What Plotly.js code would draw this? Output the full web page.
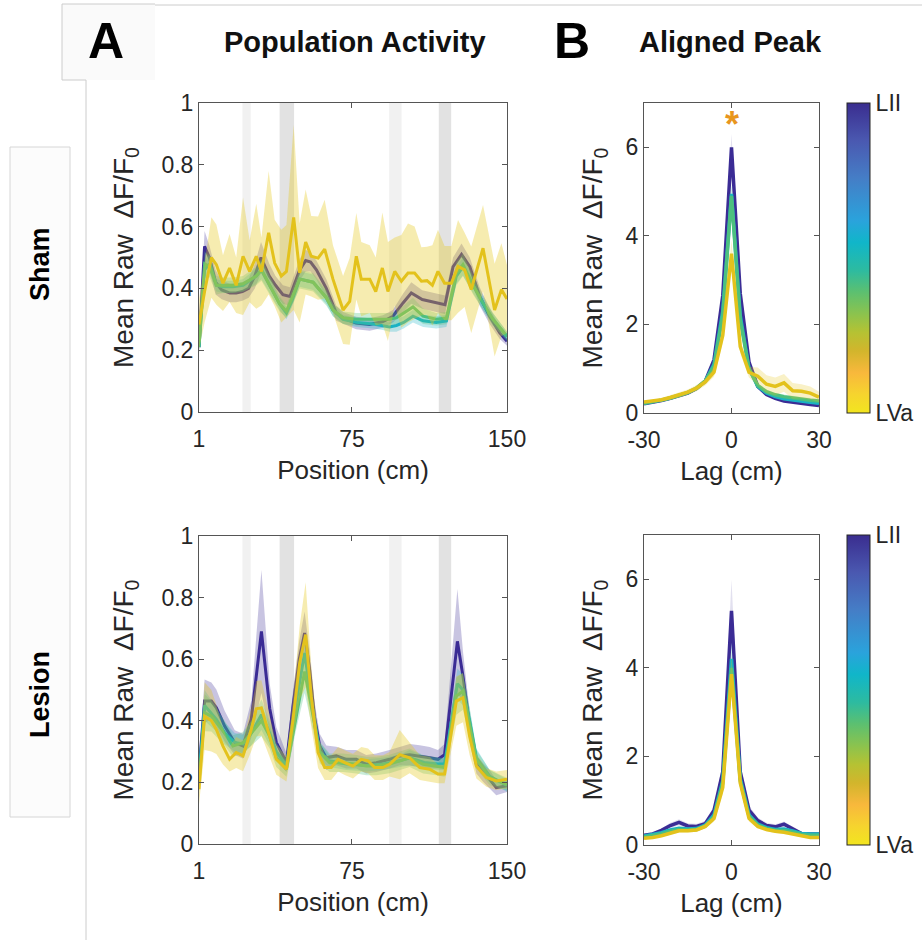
<!DOCTYPE html>
<html>
<head>
<meta charset="utf-8">
<script src="https://cdn.plot.ly/plotly-3.0.1.min.js"></script>
<style>html,body{margin:0;padding:0;background:#fff;}#chart{width:922px;height:940px;}</style>
</head>
<body>
<div id="chart"></div>
<script>
// ---------------- DATA ----------------
const layerNames = ['LII', 'LIII', 'LIV', 'LVa'];
const zoneStart = [22, 40, 93, 117];
const zoneEnd = [26, 47, 99, 123];
const zoneShade = ['light', 'dark', 'light', 'dark'];
const posTicks = [1, 75, 150];
const lagTicks = [-30, 0, 30];
const lagTickText = ['-30', '0', '30'];

// Sham – population activity
const shamLII_x = [1, 3.7, 6, 9, 12, 16, 19, 22, 25, 28, 31, 35, 38, 41.6, 45, 49.7, 52.6, 55, 57.8, 62.6, 67.4, 70.7, 77, 83.6, 90, 94.8, 99.7, 103.7, 109, 115.8, 120, 123.9, 128, 132, 136.8, 141.6, 146.5, 150];
const shamLII_y = [0.21, 0.536, 0.50, 0.42, 0.395, 0.385, 0.385, 0.39, 0.40, 0.44, 0.50, 0.44, 0.41, 0.38, 0.374, 0.46, 0.49, 0.485, 0.46, 0.40, 0.32, 0.304, 0.288, 0.283, 0.293, 0.31, 0.353, 0.385, 0.364, 0.353, 0.347, 0.47, 0.51, 0.47, 0.374, 0.31, 0.256, 0.229];
const shamLII_e = [0.02, 0.05, 0.04, 0.04, 0.03, 0.03, 0.03, 0.03, 0.03, 0.04, 0.05, 0.04, 0.03, 0.03, 0.03, 0.035, 0.035, 0.03, 0.03, 0.03, 0.025, 0.02, 0.02, 0.02, 0.02, 0.02, 0.03, 0.035, 0.03, 0.03, 0.03, 0.03, 0.035, 0.03, 0.03, 0.025, 0.02, 0.015];

const shamLIII_x = [1, 3.7, 6.2, 9.4, 12.6, 17.4, 22.3, 28.7, 31.2, 35.2, 40, 43.3, 46, 49.7, 56.2, 62.6, 65.8, 70.7, 77.1, 85.2, 90, 93.2, 96.5, 100, 104.5, 109.4, 115.8, 120.7, 125.5, 128.7, 133.6, 138.4, 143.2, 150];
const shamLIII_y = [0.21, 0.46, 0.48, 0.41, 0.405, 0.405, 0.41, 0.44, 0.46, 0.41, 0.35, 0.32, 0.36, 0.43, 0.42, 0.37, 0.33, 0.30, 0.29, 0.285, 0.28, 0.275, 0.28, 0.29, 0.31, 0.295, 0.29, 0.295, 0.44, 0.47, 0.41, 0.35, 0.30, 0.245];
const shamLIII_e = [0.01, 0.03, 0.03, 0.02, 0.02, 0.02, 0.02, 0.025, 0.03, 0.025, 0.02, 0.02, 0.02, 0.025, 0.025, 0.02, 0.02, 0.015, 0.015, 0.015, 0.015, 0.015, 0.02, 0.02, 0.02, 0.02, 0.02, 0.02, 0.03, 0.03, 0.025, 0.02, 0.02, 0.015];

const shamLIV_x = [1, 3.7, 6.2, 9.4, 12.6, 17.4, 22.3, 28.7, 31.2, 35.2, 40, 43.3, 46, 49.7, 56.2, 62.6, 65.8, 70.7, 77.1, 85.2, 90, 93.2, 96.5, 100, 104.5, 109.4, 115.8, 120.7, 125.5, 128.7, 133.6, 138.4, 143.2, 150];
const shamLIV_y = [0.21, 0.48, 0.47, 0.41, 0.41, 0.41, 0.415, 0.44, 0.46, 0.41, 0.35, 0.326, 0.37, 0.43, 0.42, 0.37, 0.33, 0.305, 0.30, 0.30, 0.30, 0.30, 0.305, 0.32, 0.34, 0.31, 0.30, 0.304, 0.45, 0.477, 0.41, 0.353, 0.30, 0.245];
const shamLIV_e = [0.02, 0.04, 0.035, 0.03, 0.025, 0.025, 0.025, 0.03, 0.035, 0.03, 0.025, 0.02, 0.025, 0.03, 0.03, 0.025, 0.02, 0.02, 0.02, 0.02, 0.02, 0.02, 0.02, 0.025, 0.03, 0.025, 0.02, 0.02, 0.035, 0.035, 0.03, 0.025, 0.02, 0.015];

const shamLVa_x = [1, 3.7, 7, 9.4, 12.6, 15.8, 19, 22.3, 25.5, 28.7, 31.2, 34.7, 37.6, 40.8, 43.3, 46.8, 49.7, 52.6, 55.3, 58.6, 61.8, 65.8, 70.7, 73.9, 77.1, 79.5, 83.6, 86.5, 89.7, 92.4, 95.7, 98.9, 102.1, 105.3, 108.6, 111.3, 113.9, 116.6, 119.8, 123.1, 126.3, 129.5, 132.7, 138.4, 144, 147.3, 150];
const shamLVa_y = [0.283, 0.39, 0.50, 0.477, 0.417, 0.466, 0.41, 0.504, 0.455, 0.504, 0.455, 0.58, 0.482, 0.44, 0.455, 0.63, 0.45, 0.55, 0.504, 0.498, 0.527, 0.43, 0.33, 0.358, 0.504, 0.43, 0.43, 0.39, 0.466, 0.39, 0.455, 0.423, 0.45, 0.45, 0.423, 0.425, 0.41, 0.455, 0.417, 0.417, 0.471, 0.46, 0.396, 0.53, 0.33, 0.396, 0.366];
const shamLVa_e = [0.08, 0.1, 0.13, 0.13, 0.09, 0.11, 0.09, 0.19, 0.10, 0.17, 0.11, 0.20, 0.14, 0.15, 0.15, 0.30, 0.16, 0.17, 0.13, 0.135, 0.16, 0.11, 0.11, 0.14, 0.14, 0.12, 0.11, 0.11, 0.18, 0.16, 0.11, 0.15, 0.16, 0.15, 0.11, 0.11, 0.13, 0.135, 0.12, 0.12, 0.15, 0.12, 0.14, 0.14, 0.15, 0.15, 0.11];

// Lesion – population activity
const lesLII_x = [1, 3.7, 7, 9.4, 13.4, 18.3, 22.3, 26.3, 31.2, 35.2, 38.4, 43.3, 46.5, 49.5, 52.1, 54.5, 56.8, 59.4, 62.6, 67.4, 72.3, 77.1, 81.9, 86.8, 93.2, 98.1, 102.9, 107.8, 112.6, 116.6, 119.8, 126, 128.7, 131.9, 135.2, 138.4, 141.6, 144.8, 150];
const lesLII_y = [0.237, 0.464, 0.464, 0.442, 0.383, 0.329, 0.318, 0.405, 0.69, 0.44, 0.33, 0.264, 0.448, 0.60, 0.685, 0.566, 0.415, 0.318, 0.28, 0.286, 0.275, 0.275, 0.259, 0.264, 0.275, 0.286, 0.29, 0.286, 0.28, 0.275, 0.29, 0.658, 0.545, 0.383, 0.259, 0.232, 0.21, 0.183, 0.189];
const lesLII_e = [0.03, 0.07, 0.06, 0.06, 0.05, 0.04, 0.04, 0.06, 0.20, 0.08, 0.05, 0.03, 0.05, 0.06, 0.07, 0.06, 0.05, 0.04, 0.04, 0.03, 0.03, 0.03, 0.03, 0.03, 0.03, 0.03, 0.035, 0.035, 0.035, 0.03, 0.035, 0.17, 0.08, 0.05, 0.03, 0.03, 0.03, 0.025, 0.02];

const lesLIII_x = [1, 3.7, 9.4, 13.4, 18.3, 22.3, 26.3, 31.2, 35.2, 38.4, 43.3, 46.5, 52.1, 56.8, 59.4, 64, 72.3, 81.9, 90, 98.1, 102.9, 110, 116.6, 119.8, 126, 128.7, 131.9, 135.2, 141.6, 150];
const lesLIII_y = [0.22, 0.45, 0.405, 0.36, 0.33, 0.325, 0.36, 0.42, 0.36, 0.30, 0.255, 0.40, 0.62, 0.40, 0.30, 0.27, 0.26, 0.255, 0.26, 0.27, 0.28, 0.265, 0.26, 0.26, 0.52, 0.50, 0.40, 0.28, 0.22, 0.19];
const lesLIII_e = [0.02, 0.05, 0.04, 0.035, 0.03, 0.03, 0.04, 0.05, 0.04, 0.03, 0.02, 0.04, 0.06, 0.04, 0.03, 0.02, 0.02, 0.02, 0.02, 0.02, 0.025, 0.02, 0.02, 0.02, 0.05, 0.05, 0.04, 0.03, 0.02, 0.02];

const lesLIV_x = [1, 3.7, 7, 13.4, 17.4, 22.3, 26.3, 31.2, 35.2, 38.4, 43.3, 47.8, 52.1, 56.2, 59.4, 64.2, 70.7, 77.1, 81.9, 86.8, 93.2, 98.1, 102.9, 109.4, 115.8, 119.8, 125.5, 128.7, 131.9, 135.2, 141.6, 150];
const lesLIV_y = [0.20, 0.426, 0.415, 0.36, 0.318, 0.329, 0.36, 0.40, 0.35, 0.28, 0.243, 0.405, 0.56, 0.415, 0.297, 0.264, 0.264, 0.259, 0.253, 0.253, 0.26, 0.27, 0.28, 0.259, 0.253, 0.248, 0.48, 0.496, 0.394, 0.275, 0.216, 0.194];
const lesLIV_e = [0.03, 0.06, 0.05, 0.04, 0.035, 0.035, 0.04, 0.05, 0.04, 0.03, 0.025, 0.04, 0.07, 0.05, 0.035, 0.03, 0.03, 0.03, 0.03, 0.03, 0.03, 0.03, 0.03, 0.03, 0.03, 0.03, 0.06, 0.06, 0.05, 0.03, 0.025, 0.02];

const lesLVa_x = [1, 3.7, 7, 9.4, 12.6, 15.8, 19, 22.3, 26.3, 28.7, 31.2, 35.2, 38.4, 43.3, 46.5, 49.7, 52.6, 55.3, 58.6, 61.8, 65, 68.3, 71.5, 75.5, 79.5, 82.8, 86, 90, 93.2, 98.1, 102.9, 107.8, 112.6, 116.6, 119.8, 125.5, 128.7, 131.9, 135.2, 140, 144.8, 150];
const lesLVa_y = [0.178, 0.415, 0.40, 0.372, 0.318, 0.275, 0.297, 0.286, 0.372, 0.439, 0.442, 0.35, 0.275, 0.243, 0.405, 0.588, 0.68, 0.48, 0.297, 0.248, 0.248, 0.275, 0.264, 0.253, 0.275, 0.27, 0.248, 0.248, 0.259, 0.29, 0.28, 0.248, 0.243, 0.227, 0.227, 0.464, 0.475, 0.35, 0.253, 0.216, 0.205, 0.21];
const lesLVa_e = [0.05, 0.11, 0.10, 0.08, 0.06, 0.04, 0.05, 0.05, 0.07, 0.09, 0.09, 0.07, 0.05, 0.04, 0.07, 0.12, 0.17, 0.10, 0.05, 0.04, 0.04, 0.04, 0.04, 0.04, 0.04, 0.04, 0.04, 0.04, 0.04, 0.08, 0.05, 0.04, 0.04, 0.03, 0.03, 0.08, 0.08, 0.06, 0.04, 0.03, 0.03, 0.03];

// Aligned peak
const lag = [-30, -27, -24, -21, -18, -15, -12, -9, -6, -3, 0, 3, 6, 9, 12, 15, 18, 21, 24, 27, 30];
const shamPeakLII = [0.21, 0.24, 0.28, 0.33, 0.38, 0.45, 0.55, 0.72, 1.2, 2.65, 6.0, 2.7, 1.15, 0.6, 0.42, 0.33, 0.27, 0.24, 0.21, 0.19, 0.17];
const shamPeakLIII = [0.22, 0.25, 0.29, 0.34, 0.39, 0.46, 0.56, 0.72, 1.1, 2.3, 4.95, 2.2, 1.0, 0.6, 0.45, 0.37, 0.32, 0.29, 0.26, 0.24, 0.22];
const shamPeakLIV = [0.22, 0.25, 0.29, 0.34, 0.39, 0.46, 0.56, 0.72, 1.05, 2.2, 4.9, 2.1, 1.0, 0.62, 0.48, 0.41, 0.37, 0.34, 0.31, 0.29, 0.27];
const shamPeakLVa = [0.25, 0.27, 0.3, 0.35, 0.4, 0.47, 0.56, 0.7, 0.92, 1.75, 3.6, 1.5, 0.92, 0.83, 0.65, 0.6, 0.68, 0.5, 0.49, 0.45, 0.36];
const shamPeakLII_e = [0.02, 0.02, 0.02, 0.02, 0.03, 0.03, 0.03, 0.04, 0.06, 0.12, 0.3, 0.12, 0.06, 0.04, 0.03, 0.03, 0.02, 0.02, 0.02, 0.02, 0.02];
const shamPeakLIII_e = [0.02, 0.02, 0.02, 0.02, 0.03, 0.03, 0.03, 0.04, 0.06, 0.1, 0.25, 0.1, 0.06, 0.04, 0.03, 0.03, 0.03, 0.03, 0.03, 0.03, 0.03];
const shamPeakLIV_e = [0.02, 0.02, 0.02, 0.03, 0.03, 0.03, 0.04, 0.05, 0.07, 0.12, 0.25, 0.12, 0.07, 0.05, 0.05, 0.05, 0.05, 0.05, 0.05, 0.05, 0.05];
const shamPeakLVa_e = [0.03, 0.03, 0.04, 0.05, 0.06, 0.06, 0.07, 0.08, 0.1, 0.15, 0.3, 0.15, 0.12, 0.2, 0.2, 0.2, 0.2, 0.18, 0.16, 0.15, 0.12];

const lesPeakLII = [0.22, 0.25, 0.33, 0.44, 0.51, 0.43, 0.42, 0.48, 0.78, 1.65, 5.29, 1.65, 0.79, 0.55, 0.44, 0.41, 0.47, 0.37, 0.26, 0.25, 0.25];
const lesPeakLIII = [0.2, 0.23, 0.28, 0.34, 0.38, 0.36, 0.37, 0.45, 0.68, 1.45, 4.2, 1.5, 0.68, 0.47, 0.39, 0.35, 0.36, 0.32, 0.26, 0.25, 0.25];
const lesPeakLIV = [0.18, 0.21, 0.25, 0.31, 0.35, 0.34, 0.35, 0.43, 0.64, 1.4, 4.0, 1.45, 0.65, 0.45, 0.37, 0.33, 0.33, 0.29, 0.24, 0.22, 0.22];
const lesPeakLVa = [0.15, 0.17, 0.21, 0.27, 0.32, 0.32, 0.34, 0.42, 0.6, 1.3, 3.86, 1.4, 0.6, 0.42, 0.35, 0.31, 0.29, 0.25, 0.2, 0.17, 0.17];
const lesPeakLII_e = [0.03, 0.03, 0.04, 0.06, 0.07, 0.06, 0.06, 0.07, 0.1, 0.2, 0.7, 0.2, 0.1, 0.07, 0.06, 0.06, 0.06, 0.05, 0.04, 0.04, 0.04];
const lesPeakLIII_e = [0.02, 0.02, 0.03, 0.04, 0.04, 0.04, 0.04, 0.05, 0.07, 0.15, 0.4, 0.15, 0.07, 0.05, 0.04, 0.04, 0.04, 0.03, 0.03, 0.03, 0.03];
const lesPeakLIV_e = [0.02, 0.02, 0.03, 0.04, 0.04, 0.04, 0.04, 0.05, 0.07, 0.15, 0.4, 0.15, 0.07, 0.05, 0.04, 0.04, 0.04, 0.03, 0.03, 0.03, 0.03];
const lesPeakLVa_e = [0.02, 0.02, 0.03, 0.04, 0.04, 0.04, 0.04, 0.05, 0.07, 0.15, 0.4, 0.15, 0.07, 0.05, 0.04, 0.04, 0.04, 0.03, 0.03, 0.03, 0.03];

// ---------------- STYLE ----------------
const W = 922, H = 940;
const FONT = 'Liberation Sans, Arial, Helvetica, sans-serif';
const TXT = '#262626';
const lineColors = {LII: '#3b2c95', LIII: '#19b2c4', LIV: '#4dc07e', LVa: '#e3c21c'};
const fillColors = {LII: 'rgba(59,44,149,0.28)', LIII: 'rgba(25,178,196,0.28)', LIV: 'rgba(77,192,126,0.30)', LVa: 'rgba(230,200,30,0.35)'};
const peakFill = {LII: 'rgba(59,44,149,0.15)', LIII: 'rgba(25,178,196,0.15)', LIV: 'rgba(77,192,126,0.15)', LVa: 'rgba(230,200,30,0.25)'};
const cbScale = [
  [0.00, '#f2e51f'], [0.06, '#f6d42e'], [0.13, '#f8b83c'], [0.20, '#d2b52c'],
  [0.26, '#b5c233'], [0.32, '#8bc34e'], [0.39, '#5cc070'], [0.46, '#2dbba0'],
  [0.55, '#10b6c9'], [0.62, '#2aa3dc'], [0.76, '#457dc6'], [0.88, '#4a58b0'], [1.00, '#3a2d8f']
];

const px = v => v / W;
const py = v => 1 - v / H;

const traces = [];
function addSeries(xs, ys, es, name, xa, ya, fills, width) {
  const upper = ys.map((v, i) => v + es[i]);
  const lower = ys.map((v, i) => v - es[i]);
  traces.push({
    x: xs.concat(xs.slice().reverse()),
    y: upper.concat(lower.slice().reverse()),
    xaxis: xa, yaxis: ya, type: 'scatter', mode: 'lines', fill: 'toself',
    fillcolor: fills[name], line: {width: 0, color: 'rgba(0,0,0,0)'},
    hoverinfo: 'skip', showlegend: false
  });
  traces.push({
    x: xs, y: ys, xaxis: xa, yaxis: ya, type: 'scatter', mode: 'lines',
    line: {color: lineColors[name], width: width}, name: name, showlegend: false
  });
}

addSeries(shamLII_x, shamLII_y, shamLII_e, 'LII', 'x', 'y', fillColors, 3);
addSeries(shamLIII_x, shamLIII_y, shamLIII_e, 'LIII', 'x', 'y', fillColors, 3);
addSeries(shamLIV_x, shamLIV_y, shamLIV_e, 'LIV', 'x', 'y', fillColors, 3);
addSeries(shamLVa_x, shamLVa_y, shamLVa_e, 'LVa', 'x', 'y', fillColors, 3);

addSeries(lesLII_x, lesLII_y, lesLII_e, 'LII', 'x2', 'y2', fillColors, 3);
addSeries(lesLIII_x, lesLIII_y, lesLIII_e, 'LIII', 'x2', 'y2', fillColors, 3);
addSeries(lesLIV_x, lesLIV_y, lesLIV_e, 'LIV', 'x2', 'y2', fillColors, 3);
addSeries(lesLVa_x, lesLVa_y, lesLVa_e, 'LVa', 'x2', 'y2', fillColors, 3);

addSeries(lag, shamPeakLII, shamPeakLII_e, 'LII', 'x3', 'y3', peakFill, 3.5);
addSeries(lag, shamPeakLIII, shamPeakLIII_e, 'LIII', 'x3', 'y3', peakFill, 3.5);
addSeries(lag, shamPeakLIV, shamPeakLIV_e, 'LIV', 'x3', 'y3', peakFill, 3.5);
addSeries(lag, shamPeakLVa, shamPeakLVa_e, 'LVa', 'x3', 'y3', peakFill, 3.5);

addSeries(lag, lesPeakLII, lesPeakLII_e, 'LII', 'x4', 'y4', peakFill, 3.5);
addSeries(lag, lesPeakLIII, lesPeakLIII_e, 'LIII', 'x4', 'y4', peakFill, 3.5);
addSeries(lag, lesPeakLIV, lesPeakLIV_e, 'LIV', 'x4', 'y4', peakFill, 3.5);
addSeries(lag, lesPeakLVa, lesPeakLVa_e, 'LVa', 'x4', 'y4', peakFill, 3.5);

// colorbars
function cbTrace(xa, ya, topPx) {
  return {
    x: [0, 0], y: [0, 0], xaxis: xa, yaxis: ya, type: 'scatter', mode: 'markers',
    hoverinfo: 'skip', showlegend: false,
    marker: {
      color: [0, 1], cmin: 0, cmax: 1, colorscale: cbScale, opacity: 0, size: 1,
      showscale: true,
      colorbar: {
        x: px(847), xanchor: 'left', y: py(topPx), yanchor: 'top',
        thickness: 23, thicknessmode: 'pixels', len: 310, lenmode: 'pixels',
        xpad: 0, ypad: 0, outlinewidth: 1, outlinecolor: TXT,
        tickvals: [0, 1], ticktext: [layerNames[3], layerNames[0]], ticks: '',
        tickfont: {family: FONT, size: 23, color: TXT}
      }
    }
  };
}
traces.push(cbTrace('x3', 'y3', 103));
traces.push(cbTrace('x4', 'y4', 535));

// axes
const tickFont = {family: FONT, size: 23, color: TXT};
const titleFont = {family: FONT, size: 26, color: TXT};
const yTitleFont = {family: FONT, size: 28, color: TXT};
function xAx(dom, range, tv, tt, title, anchor) {
  const a = {domain: dom, range: range, tickvals: tv, showgrid: false, zeroline: false,
    showline: true, linecolor: '#555', linewidth: 1, mirror: 'ticks', ticks: 'inside',
    ticklen: 5, tickcolor: '#555', tickfont: tickFont, fixedrange: true, anchor: anchor,
    ticklabelstandoff: 6,
    title: {text: title, font: titleFont, standoff: 10}};
  if (tt) a.ticktext = tt;
  return a;
}
function yAx(dom, range, tv, anchor, standoff) {
  return {domain: dom, range: range, tickvals: tv, showgrid: false, zeroline: false,
    showline: true, linecolor: '#555', linewidth: 1, mirror: 'ticks', ticks: 'inside',
    ticklen: 5, tickcolor: '#555', tickfont: tickFont, anchor: anchor, fixedrange: true,
    title: {text: 'Mean Raw  ΔF/F<sub>0</sub>', font: yTitleFont, standoff: standoff}};
}
const xL = [px(199), px(507)], xR = [px(644), px(819)];
const yTop = [py(412), py(103)], yBot = [py(844), py(536)];
const yTopR = [py(413), py(103)], yBotR = [py(845), py(535)];

// zone shapes
const shapes = [];
['x', 'x2'].forEach((xr, k) => {
  const yr = k === 0 ? 'y domain' : 'y2 domain';
  zoneStart.forEach((s, i) => {
    shapes.push({type: 'rect', xref: xr, yref: yr, x0: s, x1: zoneEnd[i], y0: 0, y1: 1,
      fillcolor: zoneShade[i] === 'light' ? '#f1f1f1' : '#e2e2e2', line: {width: 0}, layer: 'below'});
  });
});
// panel frame lines
const frameLine = (x0, y0, x1, y1) => ({type: 'line', xref: 'paper', yref: 'paper',
  x0: px(x0), y0: py(y0), x1: px(x1), y1: py(y1), line: {color: '#cccccc', width: 1}});
shapes.push({type: 'rect', xref: 'paper', yref: 'paper', x0: px(62), x1: px(155), y0: py(80), y1: py(4),
  fillcolor: '#fafafa', line: {width: 0}, layer: 'below'});
shapes.push(frameLine(62, 4, 155, 4));
shapes.push(frameLine(155, 5, 922, 5));
shapes.push(frameLine(62, 4, 62, 80));
shapes.push(frameLine(62, 80, 86, 80));
shapes.push(frameLine(86, 80, 86, 940));
shapes.push({type: 'rect', xref: 'paper', yref: 'paper', x0: px(10), x1: px(70), y0: py(817), y1: py(147),
  fillcolor: '#fcfcfc', line: {color: '#d6d6d6', width: 1}, layer: 'below'});

const ann = (x, y, text, size, extra) => Object.assign({xref: 'paper', yref: 'paper', x: px(x), y: py(y),
  text: text, showarrow: false, xanchor: 'center', yanchor: 'middle',
  font: {family: FONT, size: size, color: '#000'}}, extra || {});
const annotations = [
  ann(106, 41, '<b>A</b>', 50),
  ann(355, 42, '<b>Population Activity</b>', 29, {font: {family: FONT, size: 29, color: '#111'}}),
  ann(572, 41, '<b>B</b>', 50),
  ann(730, 42, '<b>Aligned Peak</b>', 29, {font: {family: FONT, size: 29, color: '#111'}}),
  ann(40, 264, '<b>Sham</b>', 27, {textangle: -90}),
  ann(40, 695, '<b>Lesion</b>', 27, {textangle: -90}),
  {xref: 'x3', yref: 'y3', x: 0, y: 6.64, text: '<b>*</b>', showarrow: false, yshift: -6,
   font: {family: FONT, size: 36, color: '#e8961e'}}
];

const layout = {
  width: W, height: H, margin: {l: 0, r: 0, t: 0, b: 0},
  paper_bgcolor: '#fff', plot_bgcolor: '#fff', showlegend: false,
  font: {family: FONT, color: TXT},
  xaxis: xAx(xL, [1, 150], posTicks, null, 'Position (cm)', 'y'),
  yaxis: yAx(yTop, [0, 1], [0, 0.2, 0.4, 0.6, 0.8, 1], 'x', 19),
  xaxis2: xAx(xL, [1, 150], posTicks, null, 'Position (cm)', 'y2'),
  yaxis2: yAx(yBot, [0, 1], [0, 0.2, 0.4, 0.6, 0.8, 1], 'x2', 19),
  xaxis3: xAx(xR, [-30, 30], lagTicks, lagTickText, 'Lag (cm)', 'y3'),
  yaxis3: yAx(yTopR, [0, 7], [0, 2, 4, 6], 'x3', 14),
  xaxis4: xAx(xR, [-30, 30], lagTicks, lagTickText, 'Lag (cm)', 'y4'),
  yaxis4: yAx(yBotR, [0, 7], [0, 2, 4, 6], 'x4', 14),
  shapes: shapes, annotations: annotations
};

Plotly.newPlot('chart', traces, layout, {displayModeBar: false, staticPlot: true});
</script>
</body>
</html>
